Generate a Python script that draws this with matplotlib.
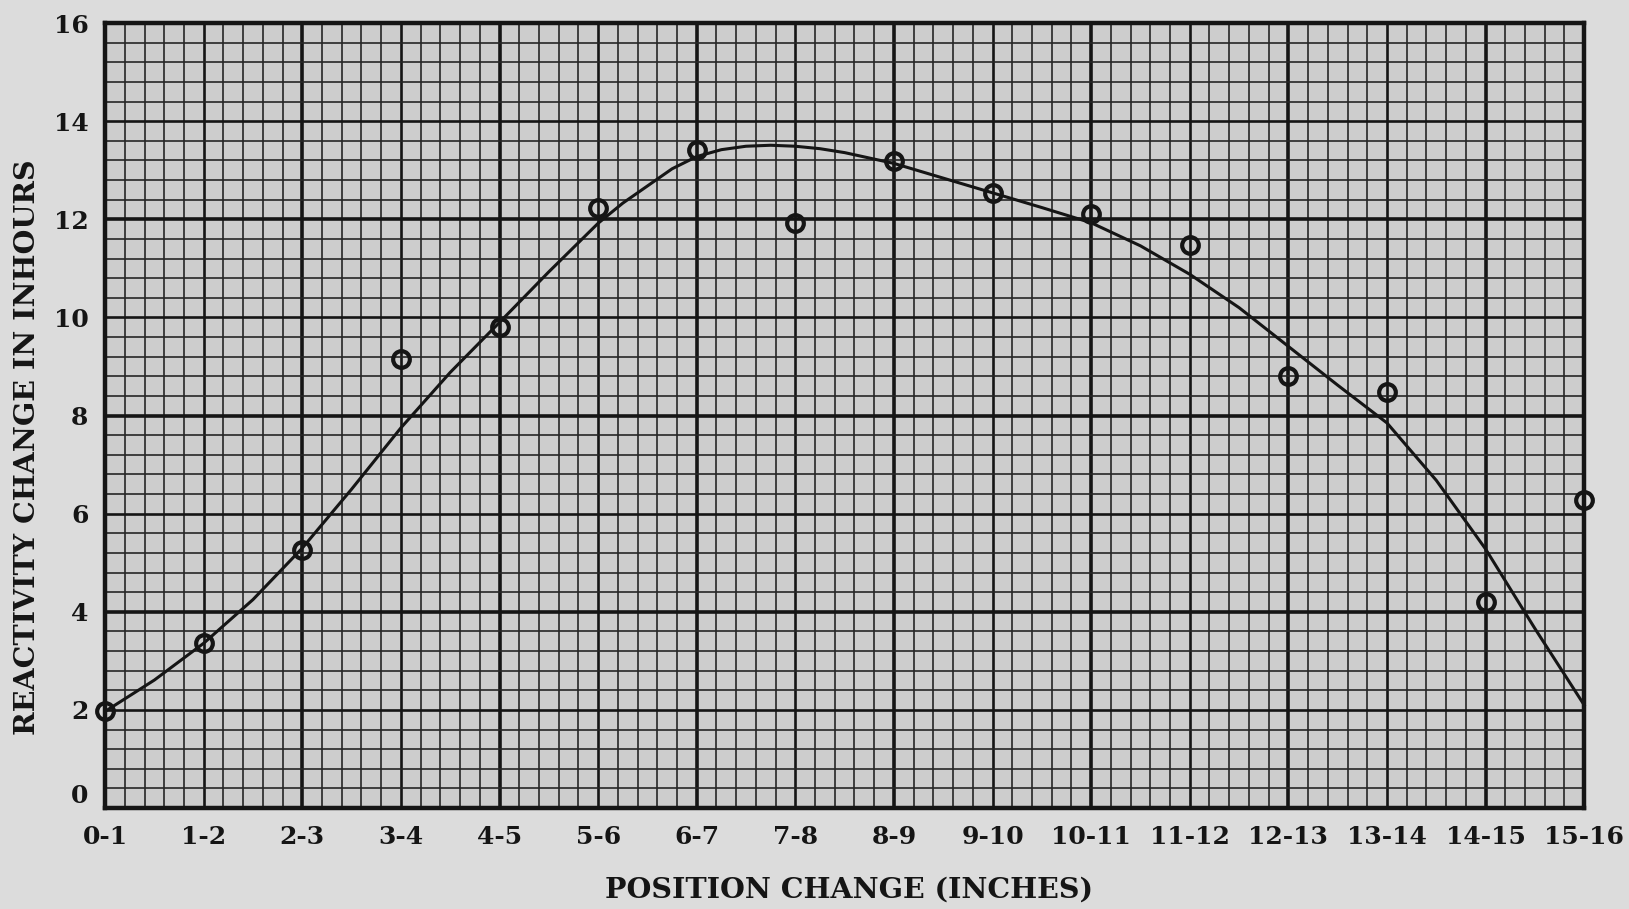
import numpy as np
import matplotlib
matplotlib.use("Agg")
import matplotlib.pyplot as plt

# position change labels (inches), one per measured interval
position_labels = ["0-1", "1-2", "2-3", "3-4", "4-5", "5-6", "6-7", "7-8",
                   "8-9", "9-10", "10-11", "11-12", "12-13", "13-14", "14-15", "15-16"]
point_x = list(range(len(position_labels)))

point_y = [1.97, 3.37, 5.27, 9.16, 9.80, 12.23, 13.42, 11.92,
           13.18, 12.53, 12.11, 11.47, 8.81, 8.48, 4.20, 6.27]

# hand drawn fitted curve
curve_x = [0, 0.5, 1, 1.5, 2, 2.5, 3, 3.5, 4, 4.5, 5, 5.25, 5.5, 5.75, 6, 6.25,
           6.5, 6.75, 7, 7.25, 7.5, 8, 8.5, 9, 9.5, 10, 10.5, 11, 11.5, 12,
           12.5, 13, 13.5, 14, 14.5, 15]
curve_y = [1.97, 2.61, 3.36, 4.25, 5.30, 6.50, 7.75, 8.88, 9.90, 10.93, 11.92, 12.33,
           12.68, 13.03, 13.28, 13.42, 13.49, 13.51, 13.49, 13.44, 13.36, 13.14, 12.84,
           12.54, 12.24, 11.93, 11.46, 10.88, 10.20, 9.41, 8.62, 7.85, 6.68, 5.28,
           3.66, 2.10]

y_ticks = [0, 2, 4, 6, 8, 10, 12, 14, 16]

paper = "#dcdcdc"
cell = "#cdcdcd"
ink = "#151515"

fig = plt.figure(figsize=(16.29, 9.09), dpi=100, facecolor=paper)
ax = fig.add_axes([0.0645, 0.111, 0.908, 0.8636], facecolor=cell)
ax.set_xlim(0, 15)
ax.set_ylim(0, 16)

# graph paper: minor / medium / heavy rulings
for gx in np.arange(0, 15.01, 0.2):
    k = int(round(gx * 5))
    if k % 10 == 0:
        lw, c = 2.6, ink
    elif k % 5 == 0:
        lw, c = 1.9, ink
    else:
        lw, c = 1.2, "#262626"
    ax.axvline(gx, color=c, lw=lw, zorder=1)
for gy in np.arange(0, 16.01, 0.4):
    k = int(round(gy * 2.5))
    if k % 10 == 0:
        lw, c = 2.6, ink
    elif k % 5 == 0:
        lw, c = 1.9, ink
    else:
        lw, c = 1.2, "#262626"
    ax.axhline(gy, color=c, lw=lw, zorder=1)

ax.plot(curve_x, curve_y, color=ink, lw=2.2, zorder=3, clip_on=False,
        solid_joinstyle="round")
ax.plot(point_x, point_y, "o", ms=12, mfc="none", mec=ink, mew=3.0,
        zorder=4, clip_on=False)

for s in ax.spines.values():
    s.set_linewidth(3.2)
    s.set_color(ink)

font = dict(family="DejaVu Serif", weight="bold")
ax.set_xticks(point_x)
ax.set_xticklabels(position_labels, fontsize=18, color=ink, **font)
ax.set_yticks(y_ticks)
ax.set_yticklabels([str(v) for v in y_ticks], fontsize=18, color=ink, **font)
ax.tick_params(length=0, pad=12)
ax.get_yticklabels()[0].set_va("bottom")

ax.set_xlabel("POSITION CHANGE (INCHES)", fontsize=20.5, color=ink, **font)
ax.set_ylabel("REACTIVITY CHANGE IN INHOURS", fontsize=20.5, color=ink, **font)
ax.xaxis.set_label_coords(0.503, -0.087)
ax.yaxis.set_label_coords(-0.043, 0.46)

fig.savefig("out.png", dpi=100, facecolor=paper)
